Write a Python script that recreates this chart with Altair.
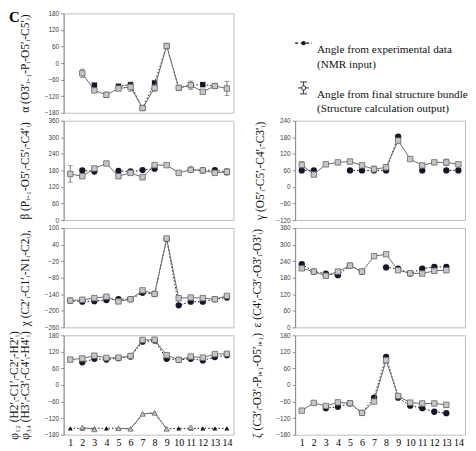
import altair as alt
import pandas as pd

residues = list(range(1, 15))

# ---- data (None = no value) ----
alpha_exp = [None, None, -80, None, -84, -78, -163, -72, 62, -90, -80, -78, -83, None]
alpha_struct = [None, -37, -99, -115, -92, -87, -163, -90, 62, -90, -80, -104, -83, -92]
alpha_err = [0, 15, 0, 10, 0, 15, 0, 12, 0, 0, 15, 0, 0, 26]

beta_exp = [None, 180, 176, None, 178, 176, 181, 186, None, None, 183, 180, 181, 174]
beta_struct = [167, 159, 187, 205, 159, 171, 155, 199, 199, 171, 182, 180, 171, 175]
beta_err = [30, 0, 0, 0, 0, 0, 0, 0, 0, 0, 0, 0, 0, 12]

chi_exp = [-163, -167, -165, -161, -158, -158, -135, -139, 60, -180, -167, -167, -158, -152]
chi_struct = [-163, -160, -154, -149, -166, -158, -126, -139, 62, -154, -152, -154, -158, -146]

phi12_exp = [None, 82, 95, 92, 97, 103, 157, 161, 95, 91, 95, 89, 101, 108]
phi12_struct = [92, 96, 106, 98, 99, 105, 163, 164, 108, 91, 103, 99, 112, 113]
phi34_exp = [-157, -157, -157, -157, -157, -159, -105, -101, -159, -157, -157, -157, -157, -157]
phi34_struct = [None, -154, -161, None, -157, -159, -105, -101, -159, None, -153, None, None, None]

gamma_exp = [60, 60, None, None, 60, 60, 60, 60, 182, None, 60, None, 60, 60]
gamma_struct = [80, 45, 82, 89, 92, 78, 64, 71, 168, 101, 78, 89, 89, 82]
gamma_err = [12, 0, 0, 0, 8, 0, 12, 0, 0, 0, 0, 0, 12, 0]

eps_exp = [229, 202, 195, 189, 224, 202, None, 217, 213, 195, 213, 219, 219, None]
eps_struct = [214, 202, 187, 202, 224, 202, 258, 265, 207, 196, 195, 205, 207, None]

zeta_exp = [None, None, -84, -79, -67, -101, -46, 102, -46, -75, -84, -97, -102, None]
zeta_struct = [-93, -65, -76, -63, -66, -101, -60, 90, -40, -64, -67, -67, -72, None]
zeta_err = [0, 0, 0, 0, 0, 0, 0, 0, 0, 0, 0, 0, 6, 0]

titles = {
    "alpha": "α (O3′ᵢ₋₁-Pᵢ-O5′ᵢ-C5′ᵢ)",
    "beta": "β (Pᵢ₋₁-O5′ᵢ-C5′ᵢ-C4′ᵢ)",
    "chi": "χ (C2′ᵢ-C1′ᵢ-N1ᵢ-C2ᵢ),",
    "phi": ["φ₁₂ (H2′ᵢ-C1′ᵢ-C2′ᵢ-H2′ᵢ)", "φ₃₄ (H3′ᵢ-C3′ᵢ-C4′ᵢ-H4′ᵢ)"],
    "gamma": "γ (O5′ᵢ-C5′ᵢ-C4′ᵢ-C3′ᵢ)",
    "eps": "ε (C4′ᵢ-C3′ᵢ-O3′ᵢ-O3′ᵢ)",
    "zeta": "ζ (C3′ᵢ-O3′ᵢ-Pᵢ₊₁-O5′ᵢ₊₁)",
}
panel_letter = "C"
legend_texts = [
    "Angle from experimental data\n(NMR input)",
    "Angle from final structure bundle\n(Structure calculation output)",
]

# ---- styles ----
W, H = 171, 100
STRUCT_FILL = "#c6c6c6"
STRUCT_STROKE = "#666666"
STRUCT_LINE = "#6b6b6b"
EXP_FILL = "#16162b"
SERIF = "Liberation Serif"


def segments(vals):
    out, cur, prev_none = [], 0, True
    for v in vals:
        if v is None:
            out.append(None)
            prev_none = True
        else:
            if prev_none:
                cur += 1
            out.append(cur)
            prev_none = False
    return out


def panel(series, ydom, title, show_x=False, title_pad=13, letter=None):
    rows = []
    for si, s in enumerate(series):
        vals = s["vals"]
        errs = s.get("err") or [0] * len(vals)
        for r, v, e, g in zip(residues, vals, errs, segments(vals)):
            if v is None:
                continue
            rows.append({"res": r, "val": v, "lo": v - e, "hi": v + e,
                         "err": e, "series": si, "seg": g})
    df = pd.DataFrame(rows)
    xs = alt.Scale(domain=[0.45, 14.55], nice=False, zero=False)
    ys = alt.Scale(domain=ydom, nice=False, zero=False)
    if show_x:
        xaxis = alt.Axis(values=residues, title=None, ticks=False, domain=False,
                         grid=False, labelFont=SERIF, labelFontSize=10,
                         labelColor="#000", labelPadding=3, labelFlush=False,
                         labelOverlap=False, labelBound=False, minExtent=0, maxExtent=14)
    else:
        xaxis = None
    yaxis = alt.Axis(values=list(range(ydom[0], ydom[1] + 1, 60)), title=title,
                     titlePadding=title_pad, labelOverlap=False, labelFlush=False,
                     labelBound=False, tickCount=7,
                     minExtent=20, maxExtent=20)

    def X(field="res"):
        return alt.X(f"{field}:Q", scale=xs, axis=xaxis)

    def Y(field="val"):
        return alt.Y(f"{field}:Q", scale=ys, axis=yaxis)

    base = alt.Chart(df)
    layers = []
    for si, s in enumerate(series):
        sub = base.transform_filter(alt.datum.series == si)
        if s["kind"] == "exp":
            layers.append(sub.mark_line(color="#111", strokeWidth=1, strokeDash=[1.5, 2])
                          .encode(x=X(), y=Y(), detail="seg:N"))
            layers.append(sub.mark_point(shape=s["shape"], filled=True, size=s.get("size", 40),
                                         color=EXP_FILL, opacity=1)
                          .encode(x=X(), y=Y()))
        else:
            if s.get("err"):
                eb = sub.transform_filter(alt.datum.err > 0)
                layers.append(eb.mark_rule(color="#555", strokeWidth=0.8)
                              .encode(x=X(), y=Y("lo"), y2="hi:Q"))
                layers.append(eb.mark_tick(orient="horizontal", size=5, thickness=0.8, color="#555")
                              .encode(x=X(), y=Y("lo")))
                layers.append(eb.mark_tick(orient="horizontal", size=5, thickness=0.8, color="#555")
                              .encode(x=X(), y=Y("hi")))
            layers.append(sub.mark_line(color=STRUCT_LINE, strokeWidth=1)
                          .encode(x=X(), y=Y(), detail="seg:N"))
            layers.append(sub.mark_point(shape=s["shape"], filled=True, size=s.get("size", 30),
                                         fill=STRUCT_FILL, stroke=STRUCT_STROKE,
                                         strokeWidth=0.8, opacity=1)
                          .encode(x=X(), y=Y()))
    if letter is not None:
        layers.append(alt.Chart(alt.Data(values=[{"k": 0}])).mark_text(
            align="left", baseline="top", font=SERIF, fontSize=15, fontWeight="bold",
            color="#000").encode(x=alt.value(-55), y=alt.value(-3), text=alt.value(letter)))
    return alt.layer(*layers).properties(width=W, height=H)


alpha = panel([
    {"kind": "exp", "vals": alpha_exp, "shape": "square", "size": 30},
    {"kind": "struct", "vals": alpha_struct, "err": alpha_err, "shape": "square"},
], [-180, 180], titles["alpha"], letter=panel_letter)

beta = panel([
    {"kind": "exp", "vals": beta_exp, "shape": "circle"},
    {"kind": "struct", "vals": beta_struct, "err": beta_err, "shape": "square"},
], [0, 360], titles["beta"])

chi = panel([
    {"kind": "exp", "vals": chi_exp, "shape": "circle"},
    {"kind": "struct", "vals": chi_struct, "shape": "square"},
], [-260, 100], titles["chi"])

phi = panel([
    {"kind": "exp", "vals": phi12_exp, "shape": "circle"},
    {"kind": "struct", "vals": phi12_struct, "shape": "square"},
    {"kind": "exp", "vals": phi34_exp, "shape": "triangle-up", "size": 25},
    {"kind": "struct", "vals": phi34_struct, "shape": "triangle-up", "size": 28},
], [-180, 180], titles["phi"], show_x=True)

gamma = panel([
    {"kind": "exp", "vals": gamma_exp, "shape": "circle"},
    {"kind": "struct", "vals": gamma_struct, "err": gamma_err, "shape": "square"},
], [-120, 240], titles["gamma"], title_pad=10)

eps = panel([
    {"kind": "exp", "vals": eps_exp, "shape": "circle"},
    {"kind": "struct", "vals": eps_struct, "shape": "square"},
], [0, 360], titles["eps"])

zeta = panel([
    {"kind": "exp", "vals": zeta_exp, "shape": "circle"},
    {"kind": "struct", "vals": zeta_struct, "err": zeta_err, "shape": "square"},
], [-180, 180], titles["zeta"], show_x=True)

# ---- legend cell ----
dummy = alt.Data(values=[{"k": 0}])
lg = alt.Chart(dummy)
legend = alt.layer(
    lg.mark_rule(color="#111", strokeWidth=1.2, strokeDash=[3, 2.5]).encode(
        x=alt.value(0), x2=alt.value(17), y=alt.value(30)),
    lg.mark_point(shape="circle", filled=True, size=18, color=EXP_FILL, opacity=1).encode(
        x=alt.value(8.5), y=alt.value(30)),
    lg.mark_rule(color="#333", strokeWidth=1).encode(
        x=alt.value(8.5), y=alt.value(69), y2=alt.value(81)),
    lg.mark_rule(color="#333", strokeWidth=1).encode(
        x=alt.value(5), x2=alt.value(12), y=alt.value(69)),
    lg.mark_rule(color="#333", strokeWidth=1).encode(
        x=alt.value(5), x2=alt.value(12), y=alt.value(81)),
    lg.mark_rule(color="#333", strokeWidth=1).encode(
        x=alt.value(3), x2=alt.value(14), y=alt.value(75)),
    lg.mark_point(shape="circle", filled=True, size=18, fill="#ffffff", stroke="#333",
                  strokeWidth=1, opacity=1).encode(x=alt.value(8.5), y=alt.value(75)),
    lg.mark_text(align="left", baseline="middle", font=SERIF, fontSize=11.3, color="#111",
                 lineBreak="\n", lineHeight=14.5).encode(
        x=alt.value(22), y=alt.value(37), text=alt.value(legend_texts[0])),
    lg.mark_text(align="left", baseline="middle", font=SERIF, fontSize=11.3, color="#111",
                 lineBreak="\n", lineHeight=14.5).encode(
        x=alt.value(22), y=alt.value(82), text=alt.value(legend_texts[1])),
).properties(width=W, height=H, view=alt.ViewBackground(strokeOpacity=0))

chart = alt.concat(
    alpha, legend, beta, gamma, chi, eps, phi, zeta,
    columns=2, spacing={"row": 8, "column": 62}, bounds="flush",
).properties(
    padding={"left": 0, "top": 0, "right": 0, "bottom": 0},
    background="#ffffff",
).configure_view(
    stroke="#bdbdbd", strokeWidth=1,
).configure_axis(
    grid=False, labelOverlap=False,
    labelFont="Liberation Sans", labelFontSize=6.5, labelColor="#444",
    tickSize=3, tickColor="#777", tickWidth=0.8,
    domainColor="#777", domainWidth=0.8,
    labelPadding=2,
    titleFont=SERIF, titleFontSize=11.5, titleFontWeight="normal", titleColor="#111",
    titleLineHeight=11,
)

chart.save("out.html", embed_options={"renderer": "svg", "actions": False})
